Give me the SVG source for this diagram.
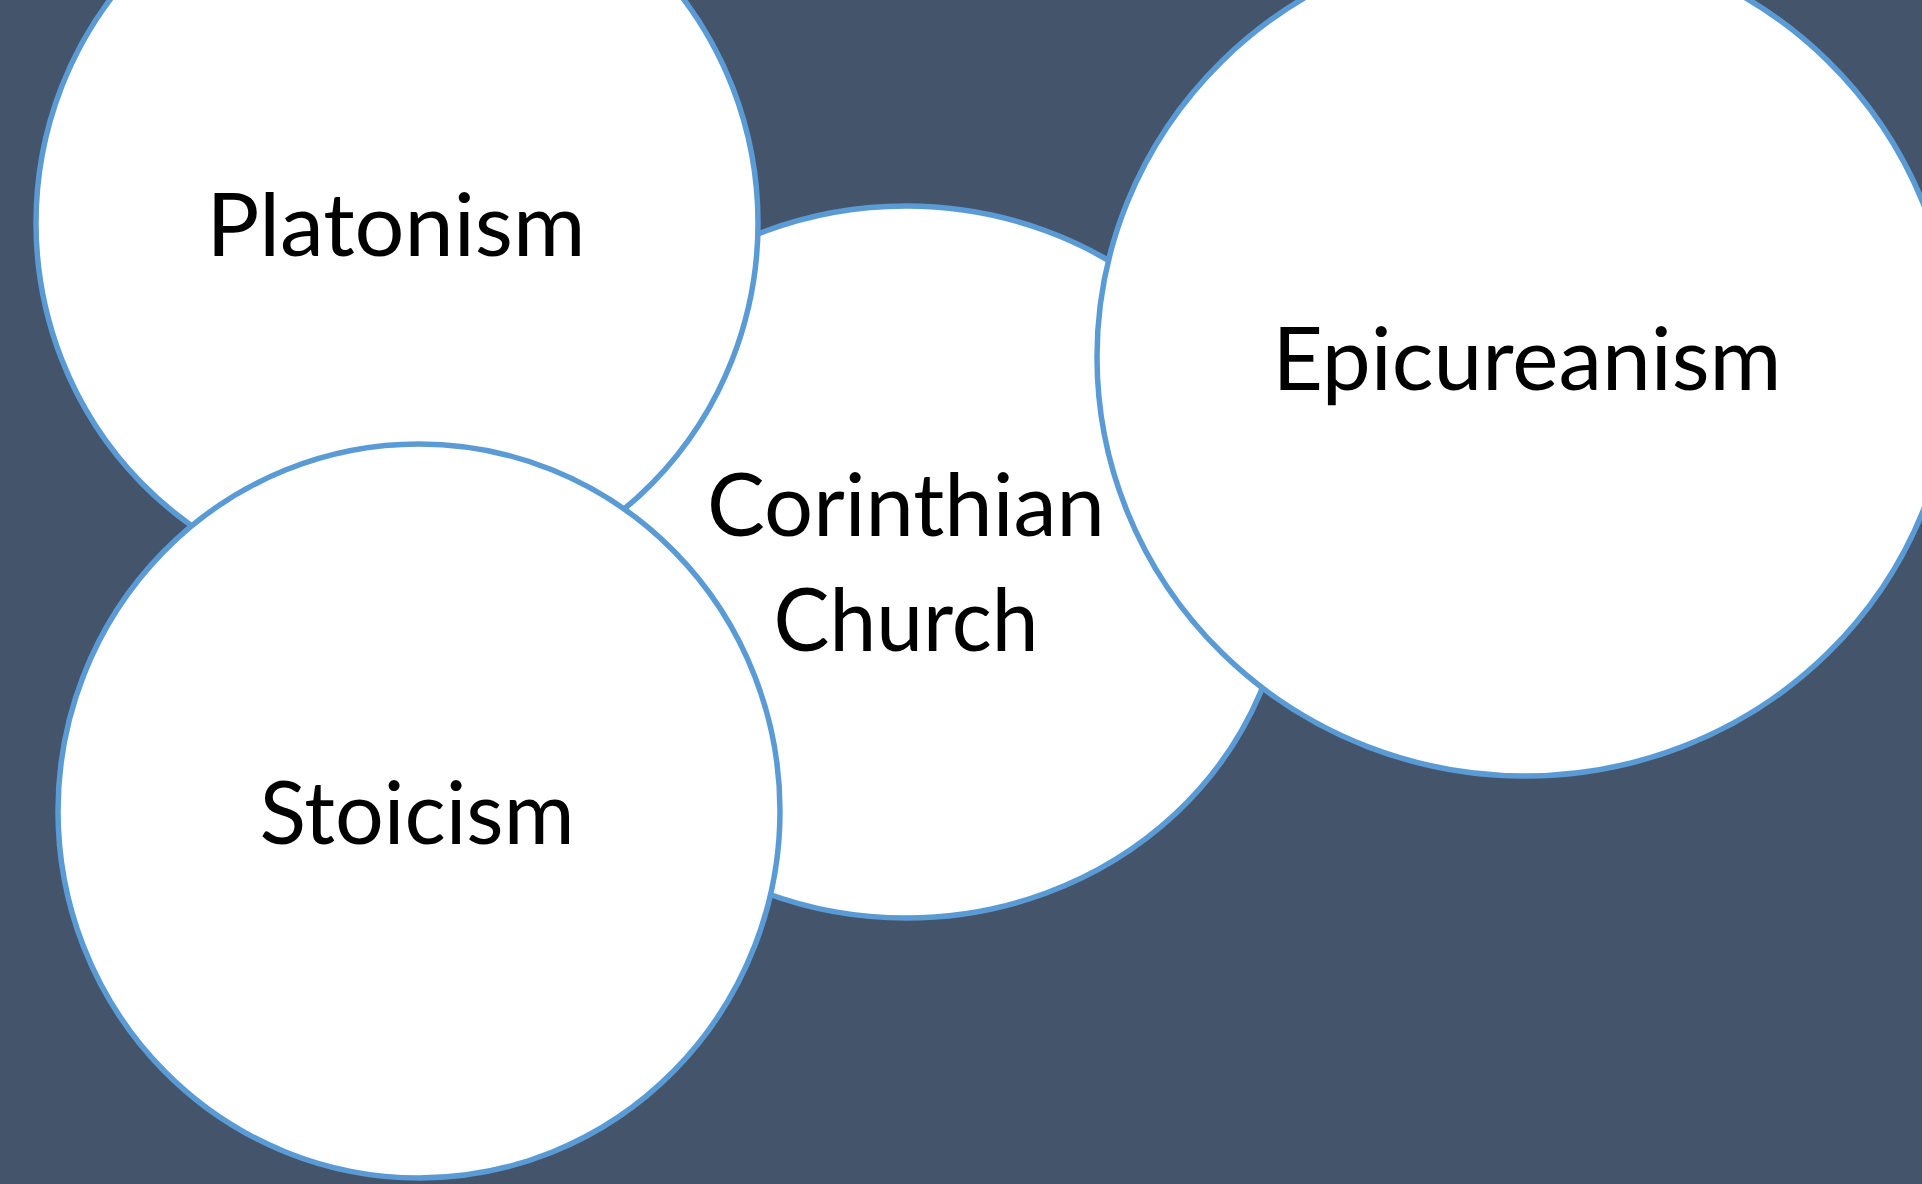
<svg xmlns="http://www.w3.org/2000/svg" width="1922" height="1184" viewBox="0 0 1922 1184">
<style>
.bubble{fill:#FFFFFF;stroke:#5B9BD5;stroke-width:5.5}
.lbl{font-family:Lato,"Open Sans","Liberation Sans",sans-serif;font-size:87px;fill:#000000;text-anchor:middle}
</style>
<rect x="0" y="0" width="1922" height="1184" fill="#44546A"/>
<g id="connectors"></g>
<g id="node-corinthian">
<ellipse class="bubble" cx="906" cy="562" rx="381" ry="356"/>
<text class="lbl" x="906" y="536" textLength="398" lengthAdjust="spacingAndGlyphs">Corinthian</text>
<text class="lbl" x="906" y="651" textLength="265" lengthAdjust="spacingAndGlyphs">Church</text>
</g>
<g id="node-platonism">
<ellipse class="bubble" cx="397" cy="223" rx="361" ry="368"/>
<text class="lbl" x="396" y="256" textLength="379" lengthAdjust="spacingAndGlyphs">Platonism</text>
</g>
<g id="node-stoicism">
<ellipse class="bubble" cx="419" cy="811" rx="361" ry="367"/>
<text class="lbl" x="417" y="844" textLength="315" lengthAdjust="spacingAndGlyphs">Stoicism</text>
</g>
<g id="node-epicureanism">
<ellipse class="bubble" cx="1525" cy="357" rx="428" ry="419"/>
<text class="lbl" x="1527" y="390" textLength="509" lengthAdjust="spacingAndGlyphs">Epicureanism</text>
</g>
</svg>
